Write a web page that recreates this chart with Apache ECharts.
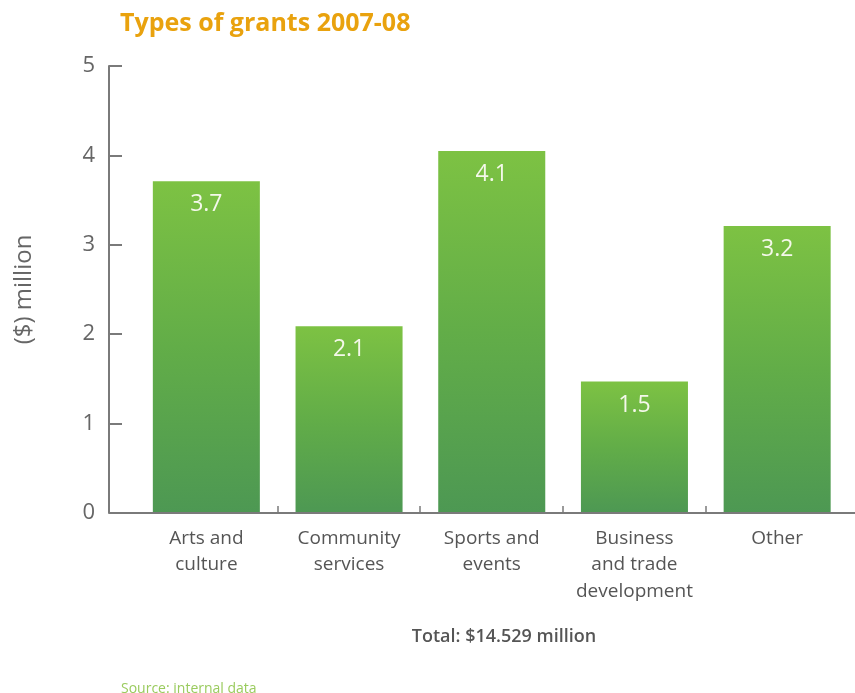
<!DOCTYPE html>
<html>
<head>
<meta charset="utf-8">
<script src="https://cdn.jsdelivr.net/npm/echarts@6/dist/echarts.min.js"></script>
<style>
html,body{margin:0;padding:0;background:#fff;}
#main{width:855px;height:693px;}
</style>
</head>
<body>
<div id="main"></div>
<script>
const categories = ['Arts and\nculture', 'Community\nservices', 'Sports and\nevents', 'Business\nand trade\ndevelopment', 'Other'];
const values = [3.71, 2.09, 4.05, 1.47, 3.21];
const valueLabels = ['3.7', '2.1', '4.1', '1.5', '3.2'];
const yTicks = [0, 1, 2, 3, 4, 5];
const titleText = 'Types of grants 2007-08';
const totalText = 'Total: $14.529 million';
const sourceText = 'Source: internal data';
const yName = '($) million';

const FONT = '"Open Sans", "Noto Sans", sans-serif';
const chart = echarts.init(document.getElementById('main'), null, {renderer: 'canvas'});

const option = {
  backgroundColor: '#ffffff',
  animation: false,
  title: [
    {text: titleText, left: 115, top: 6,
     textStyle: {color: '#E9A20E', fontFamily: FONT, fontWeight: 'bold', fontSize: 25}},
    {text: totalText, left: 499, top: 623, textAlign: 'center',
     textStyle: {color: '#555', fontFamily: FONT, fontWeight: 600, fontSize: 18}},
    {text: sourceText, left: 116, top: 677,
     textStyle: {color: '#9ACB5E', fontFamily: FONT, fontWeight: 'normal', fontSize: 14}}
  ],
  grid: {left: 135, right: 6.5, top: 66, bottom: 180, containLabel: false},
  xAxis: {
    type: 'category',
    data: categories,
    axisLine: {show: false},
    axisTick: {show: false},
    axisLabel: {color: '#555', fontFamily: FONT, fontSize: 19, lineHeight: 26.5, margin: 12, interval: 0}
  },
  yAxis: {
    type: 'value',
    min: yTicks[0], max: yTicks[yTicks.length - 1], interval: 1,
    offset: 26,
    name: yName, nameLocation: 'middle', nameGap: 73, nameRotate: 90,
    nameTextStyle: {color: '#666', fontFamily: FONT, fontSize: 24},
    axisLine: {show: true, lineStyle: {color: '#7a7a7a', width: 2}},
    axisTick: {show: true, inside: true, length: 13, lineStyle: {color: '#7a7a7a', width: 2}},
    axisLabel: {color: '#666', fontFamily: FONT, fontSize: 22, margin: 14},
    splitLine: {show: false}
  },
  series: [{
    type: 'bar',
    data: values,
    barCategoryGap: '25%',
    itemStyle: {
      color: new echarts.graphic.LinearGradient(0, 0, 0, 1, [
        {offset: 0, color: '#7DC243'},
        {offset: 0.5, color: '#62AD48'},
        {offset: 1, color: '#4D9853'}
      ])
    },
    label: {
      show: true, position: 'insideTop', distance: 12,
      color: '#F4F8EA', fontFamily: FONT, fontSize: 23,
      formatter: p => valueLabels[p.dataIndex]
    }
  }]
};
chart.setOption(option);

// axis line across full width and ticks at inner category boundaries
const y0 = chart.convertToPixel({yAxisIndex: 0}, 0);
const c0 = chart.convertToPixel({xAxisIndex: 0}, 0);
const c1 = chart.convertToPixel({xAxisIndex: 0}, 1);
const band = c1 - c0;
const yAxisX = 135 - 26;
const elements = [{
  type: 'line', z: 10,
  shape: {x1: yAxisX, y1: y0, x2: 855, y2: y0},
  style: {stroke: '#7a7a7a', lineWidth: 2}
}];
for (let i = 1; i < categories.length; i++) {
  const x = Math.round(chart.convertToPixel({xAxisIndex: 0}, i) - band / 2);
  elements.push({
    type: 'line', z: 10,
    shape: {x1: x, y1: y0, x2: x, y2: y0 - 7},
    style: {stroke: '#7a7a7a', lineWidth: 1.5}
  });
}
chart.setOption({graphic: elements});
</script>
</body>
</html>
